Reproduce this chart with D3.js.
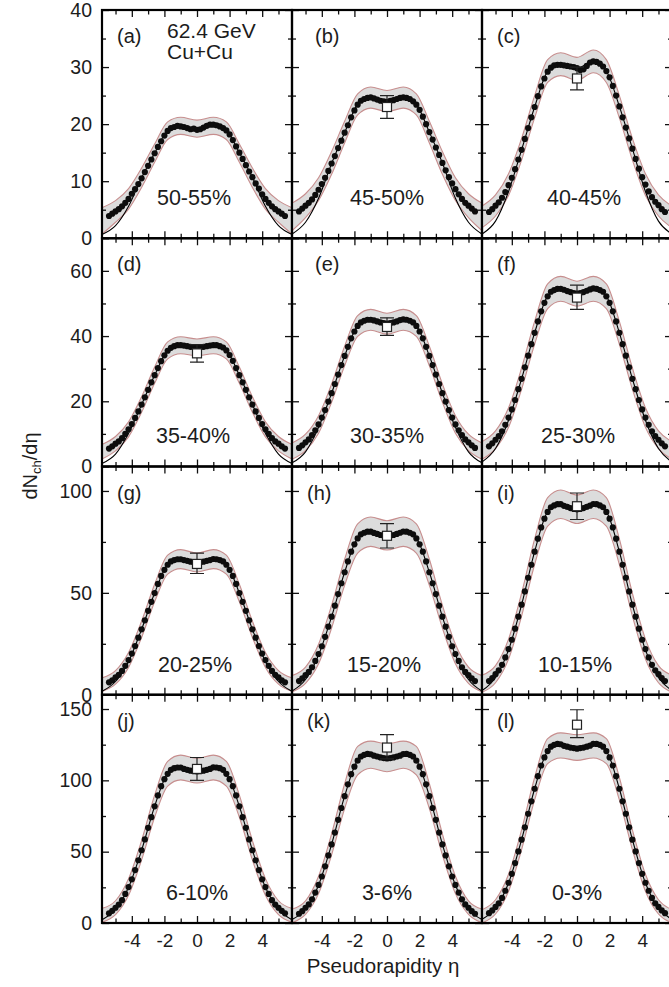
<!DOCTYPE html>
<html><head><meta charset="utf-8">
<script src="https://cdn.jsdelivr.net/npm/d3@7"></script>
<style>html,body{margin:0;padding:0;background:#fff;} svg{display:block;}</style>
</head><body>
<svg id="chart" width="669" height="987"></svg>
<script>
// ---------------- data ----------------
const eta = [-5.4,-5.2,-5.0,-4.8,-4.6,-4.4,-4.2,-4.0,-3.8,-3.6,-3.4,-3.2,-3.0,-2.8,-2.6,-2.4,-2.2,-2.0,-1.8,-1.6,-1.4,-1.2,-1.0,-0.8,-0.6,-0.4,-0.2,0,0.2,0.4,0.6,0.8,1.0,1.2,1.4,1.6,1.8,2.0,2.2,2.4,2.6,2.8,3.0,3.2,3.4,3.6,3.8,4.0,4.2,4.4,4.6,4.8,5.0,5.2,5.4];
const bandEta = [-5.8,-5.0,-4.2,-3.4,-2.6,-1.8,-1.0,0,1.0,1.8,2.6,3.4,4.2,5.0,5.8];

const centralities = ["50-55%","45-50%","40-45%","35-40%","30-35%","25-30%","20-25%","15-20%","10-15%","6-10%","3-6%","0-3%"];
const panelLetters = ["(a)","(b)","(c)","(d)","(e)","(f)","(g)","(h)","(i)","(j)","(k)","(l)"];

const dndeta_a = [3.9,4.3,4.7,5.1,5.6,6.2,6.9,7.8,8.6,9.5,10.5,11.6,12.7,13.8,14.9,16.0,17.0,18.0,18.8,19.3,19.5,19.7,19.6,19.5,19.3,19.1,19.2,19.0,19.1,19.4,19.7,19.9,19.9,19.8,19.6,19.3,18.9,18.2,17.2,16.1,15.0,13.9,12.8,11.7,10.7,9.6,8.7,7.7,6.9,6.2,5.6,5.1,4.7,4.3,3.9];
const dndeta_b = [4.7,5.2,5.7,6.2,6.8,7.6,8.5,9.5,10.6,11.8,13.1,14.4,15.8,17.1,18.5,19.8,21.2,22.4,23.4,24.1,24.4,24.6,24.7,24.5,24.3,24.1,24.0,23.9,24.1,24.2,24.4,24.6,24.7,24.6,24.4,24.0,23.4,22.5,21.3,20.0,18.6,17.3,15.9,14.6,13.2,11.9,10.7,9.6,8.6,7.7,6.9,6.2,5.7,5.2,4.7];
const dndeta_c = [4.6,5.1,5.7,6.3,7.1,8.1,9.3,10.6,12.1,13.8,15.5,17.4,19.3,21.2,23.0,24.9,26.6,28.0,29.2,29.9,30.3,30.4,30.4,30.3,30.2,30.1,30.0,29.8,29.5,29.6,30.2,30.8,31.0,30.9,30.6,30.1,29.3,28.2,26.7,25.0,23.1,21.2,19.4,17.5,15.7,13.9,12.2,10.7,9.4,8.2,7.2,6.4,5.8,5.1,4.6];
const dndeta_d = [5.5,6.2,7.0,7.7,8.7,10.0,11.4,13.0,14.9,16.9,19.0,21.2,23.5,25.8,28.0,30.2,32.3,34.1,35.5,36.4,36.9,37.2,37.2,37.1,36.9,36.7,36.6,36.5,36.6,36.7,36.9,37.1,37.2,37.2,36.9,36.5,35.6,34.2,32.4,30.2,28.0,25.8,23.5,21.2,19.0,16.9,14.9,13.0,11.4,10.0,8.7,7.7,7.0,6.2,5.5];
const dndeta_e = [5.7,6.5,7.4,8.3,9.6,11.1,12.9,15.0,17.3,19.9,22.5,25.3,28.2,31.1,33.9,36.7,39.3,41.4,43.1,44.2,44.7,45.0,45.0,44.8,44.5,44.2,44.0,43.8,44.0,44.2,44.5,44.9,45.1,45.0,44.7,44.2,43.1,41.4,39.3,36.7,33.9,31.1,28.2,25.3,22.5,19.9,17.3,15.0,12.9,11.1,9.6,8.3,7.4,6.5,5.7];
const dndeta_f = [6.2,7.1,8.2,9.3,10.8,12.8,15.0,17.5,20.4,23.7,26.9,30.4,34.0,37.5,41.0,44.5,47.6,50.2,52.2,53.6,54.1,54.5,54.5,54.2,53.8,53.5,53.2,53.0,53.2,53.5,53.9,54.3,54.6,54.5,54.1,53.6,52.2,50.2,47.6,44.5,41.0,37.5,34.0,30.4,26.9,23.7,20.4,17.5,15.0,12.8,10.8,9.3,8.2,7.1,6.2];
const dndeta_g = [6.1,7.1,8.5,9.8,11.7,14.2,17.0,20.2,23.9,28.0,32.1,36.5,41.2,45.6,49.9,54.4,58.3,61.3,63.8,65.4,66.1,66.5,66.5,66.1,65.7,65.3,65.0,64.8,65.0,65.3,65.7,66.1,66.6,66.5,66.1,65.4,63.8,61.3,58.3,54.4,49.9,45.6,41.2,36.5,32.1,28.0,23.9,20.2,17.0,14.2,11.7,9.8,8.5,7.1,6.1];
const dndeta_h = [6.7,8.0,9.6,11.2,13.5,16.6,20.0,23.8,28.4,33.4,38.3,43.7,49.4,54.7,60.1,65.4,70.2,73.8,76.7,78.7,79.5,80.0,80.0,79.4,78.9,78.4,78.0,77.8,78.0,78.4,78.9,79.5,80.1,80.0,79.5,78.7,76.7,73.8,70.2,65.4,60.1,54.7,49.4,43.7,38.3,33.4,28.4,23.8,20.0,16.6,13.5,11.2,9.6,8.0,6.7];
const dndeta_i = [6.7,8.2,10.1,12.0,14.7,18.3,22.4,27.0,32.4,38.3,44.2,50.7,57.4,63.8,70.2,76.6,82.1,86.4,89.7,92.0,92.9,93.5,93.5,92.7,92.2,91.6,91.2,91.0,91.2,91.6,92.2,92.8,93.6,93.5,92.9,92.0,89.7,86.4,82.1,76.6,70.2,63.8,57.4,50.7,44.2,38.3,32.4,27.0,22.4,18.3,14.7,12.0,10.1,8.2,6.7];
const dndeta_j = [6.8,8.5,10.7,12.9,16.0,20.4,25.2,30.6,37.1,44.0,51.0,58.6,66.7,74.2,81.8,89.4,95.9,100.8,104.6,107.4,108.5,109.0,109.0,108.0,107.4,106.8,106.4,106.2,106.4,106.8,107.4,108.0,109.1,109.0,108.5,107.4,104.6,100.8,95.9,89.4,81.8,74.2,66.7,58.6,51.0,44.0,37.1,30.6,25.2,20.4,16.0,12.9,10.7,8.5,6.8];
const dndeta_k = [6.5,8.3,10.7,13.0,16.6,21.3,26.7,32.6,39.7,47.4,55.1,63.4,72.3,80.6,88.9,97.2,104.3,109.6,113.8,116.7,117.9,118.5,118.3,117.3,116.7,116.1,115.6,115.3,115.6,116.1,116.7,117.3,118.4,118.5,117.9,116.7,113.8,109.6,104.3,97.2,88.9,80.6,72.3,63.4,55.1,47.4,39.7,32.6,26.7,21.3,16.6,13.0,10.7,8.3,6.5];
const dndeta_l = [6.9,8.8,11.3,13.8,17.6,22.6,28.2,34.5,42.0,50.2,58.4,67.1,76.6,85.3,94.1,102.9,110.4,116.1,120.5,123.6,124.9,125.5,125.3,124.2,123.6,123.0,122.6,122.2,122.6,123.0,123.6,124.3,125.6,125.5,124.9,123.6,120.5,116.1,110.4,102.9,94.1,85.3,76.6,67.1,58.4,50.2,42.0,34.5,28.2,22.6,17.6,13.8,11.3,8.8,6.9];

// systematic band (lower / upper) on bandEta
const bandLo_a = [0.8,2.8,5.1,8.9,13.3,17.3,18.2,17.7,18.2,17.3,13.3,8.9,5.1,2.8,0.8];
const bandHi_a = [5.4,6.6,8.7,12.3,16.5,20.4,21.2,20.7,21.2,20.4,16.5,12.3,8.7,6.6,5.4];
const bandLo_b = [1.4,3.6,6.6,11.2,16.7,21.6,22.8,22.2,22.8,21.6,16.7,11.2,6.6,3.6,1.4];
const bandHi_b = [6.2,7.8,10.6,15.2,20.5,25.3,26.5,25.9,26.5,25.3,20.5,15.2,10.6,7.8,6.2];
const bandLo_c = [1.9,3.9,7.5,13.7,21.1,27.3,28.5,27.7,29.0,27.3,21.1,13.7,7.5,3.9,1.9];
const bandHi_c = [5.7,7.6,11.3,17.5,25.0,31.3,32.5,31.7,33.0,31.3,25.0,17.5,11.3,7.6,5.7];
const bandLo_d = [2.4,4.8,9.1,16.6,25.5,33.0,34.6,33.9,34.6,33.0,25.5,16.6,9.1,4.8,2.4];
const bandHi_d = [6.8,9.2,13.7,21.4,30.5,38.2,39.8,39.1,39.8,38.2,30.5,21.4,13.7,9.2,6.8];
const bandLo_e = [2.3,4.9,10.2,19.7,30.9,39.9,41.8,40.6,41.8,39.9,30.9,19.7,10.2,4.9,2.3];
const bandHi_e = [7.3,9.9,15.6,25.3,36.9,46.3,48.2,47.0,48.2,46.3,36.9,25.3,15.6,9.9,7.3];
const bandLo_f = [2.3,5.5,12.0,23.7,37.5,48.4,50.7,49.2,50.7,48.4,37.5,23.7,12.0,5.5,2.3];
const bandHi_f = [7.7,10.9,18.0,30.2,44.5,56.0,58.3,56.8,58.3,56.0,44.5,30.2,18.0,10.9,7.7];
const bandLo_g = [1.7,5.2,13.4,28.1,45.6,59.2,61.9,60.2,61.9,59.2,45.6,28.1,13.4,5.2,1.7];
const bandHi_g = [8.3,11.8,20.7,36.1,54.2,68.5,71.2,69.5,71.2,68.5,54.2,36.1,20.7,11.8,8.3];
const bandLo_h = [1.5,5.6,15.2,32.7,53.7,69.5,72.8,71.0,72.8,69.5,53.7,32.7,15.2,5.6,1.5];
const bandHi_h = [9.5,13.6,24.8,43.9,66.5,83.9,87.2,85.4,87.2,83.9,66.5,43.9,24.8,13.6,9.5];
const bandLo_i = [1.3,5.9,17.5,38.6,63.9,82.7,86.5,84.0,86.5,82.7,63.9,38.6,17.5,5.9,1.3];
const bandHi_i = [9.7,14.3,27.3,49.8,76.5,96.7,100.5,98.0,100.5,96.7,76.5,49.8,27.3,14.3,9.7];
const bandLo_j = [0.6,5.8,19.4,44.2,74.1,95.9,100.3,98.1,100.3,95.9,74.1,44.2,19.4,5.8,0.6];
const bandHi_j = [10.4,15.6,31.1,57.8,89.6,113.3,117.7,115.5,117.7,113.3,89.6,57.8,31.1,15.6,10.4];
const bandLo_k = [0.3,6.0,20.6,47.7,80.2,103.8,108.5,106.0,108.5,103.8,80.2,47.7,20.6,6.0,0.3];
const bandHi_k = [9.8,15.5,32.8,62.5,97.6,123.8,127.5,125.5,127.5,123.8,97.6,62.5,32.8,15.5,9.8];
const bandLo_l = [0.2,6.3,22.3,51.5,86.3,111.7,115.7,114.0,115.7,111.7,86.3,51.5,22.3,6.3,0.2];
const bandHi_l = [9.5,16.3,34.2,65.3,102.0,129.3,133.3,132.0,133.3,129.3,102.0,65.3,34.2,16.3,9.5];

// thin black curve on bandEta
const fit_a = [0.7,2.2,5.6,10.6,14.9,18.9,19.8,19.0,19.9,18.9,15.0,10.7,5.6,2.2,0.7];
const fit_b = [0.8,2.8,7.0,13.1,18.5,23.4,24.6,23.9,24.7,23.4,18.6,13.2,7.0,2.8,0.8];
const fit_c = [0.8,3.0,8.2,15.5,23.0,29.2,30.4,29.8,31.0,29.3,23.1,15.7,8.2,3.0,0.8];
const fit_d = [1.0,3.8,10.2,19.0,28.0,35.5,37.2,36.5,37.2,35.6,28.0,19.0,10.2,3.8,1.0];
const fit_e = [1.2,4.5,12.0,22.5,33.9,43.1,45.0,43.8,45.1,43.1,33.9,22.5,12.0,4.5,1.2];
const fit_f = [1.5,5.5,14.2,26.9,41.0,52.2,54.5,53.0,54.6,52.2,41.0,26.9,14.2,5.5,1.5];
const fit_g = [1.8,6.5,16.3,32.1,49.9,63.8,66.5,64.8,66.6,63.8,49.9,32.1,16.3,6.5,1.8];
const fit_h = [2.0,7.5,19.5,38.3,60.1,76.7,80.0,77.8,80.1,76.7,60.1,38.3,19.5,7.5,2.0];
const fit_i = [2.2,8.5,22.0,44.2,70.2,89.7,93.5,91.0,93.6,89.7,70.2,44.2,22.0,8.5,2.2];
const fit_j = [2.5,9.5,25.0,51.0,81.8,104.6,109.0,106.2,109.1,104.6,81.8,51.0,25.0,9.5,2.5];
const fit_k = [2.6,9.8,26.5,55.1,88.9,113.8,118.5,115.3,118.4,113.8,88.9,55.1,26.5,9.8,2.6];
const fit_l = [2.8,10.5,28.0,58.4,94.1,120.5,125.5,122.2,125.6,120.5,94.1,58.4,28.0,10.5,2.8];

// open-square reference point at eta = 0
const refValue = [null,23.0,28.0,34.7,42.8,51.8,64.2,78.0,92.5,108.0,123.0,139.0];
const refLo    = [null,21.0,26.0,32.0,40.2,48.2,59.5,72.0,86.0,100.0,115.0,130.0];
const refHi    = [null,25.0,30.0,37.4,45.6,55.6,69.5,84.0,99.0,116.0,132.0,149.5];

// axes
const rowYMax = [40, 70, 112, 160];
const yMajorTicks = [[0,10,20,30,40],[0,20,40,60],[0,50,100],[0,50,100,150]];
const yMinorTicks = [[5,15,25,35],[10,30,50],[25,75],[25,75,125]];
const xMajorTicks = [-4,-2,0,2,4];
const xMinorTicks = [-5,-3,-1,1,3,5];

// ---------------- layout ----------------
const colX = [102, 292, 482], panelW = 190;
const rowY = [10, 238.25, 466.5, 694.75], panelH = 228.25;
const letterDx = [15,23,15,15,23,15,15,15,15,15,15,15];
const centDx = [-3,0,7,-4,0,1,-2,-3,-2,0,0,0];
const FONT = "'Liberation Sans', Arial, Helvetica, sans-serif";
const TXT = "#1c1c1c";

const panels = [
  {vals:dndeta_a, lo:bandLo_a, hi:bandHi_a, fit:fit_a},
  {vals:dndeta_b, lo:bandLo_b, hi:bandHi_b, fit:fit_b},
  {vals:dndeta_c, lo:bandLo_c, hi:bandHi_c, fit:fit_c},
  {vals:dndeta_d, lo:bandLo_d, hi:bandHi_d, fit:fit_d},
  {vals:dndeta_e, lo:bandLo_e, hi:bandHi_e, fit:fit_e},
  {vals:dndeta_f, lo:bandLo_f, hi:bandHi_f, fit:fit_f},
  {vals:dndeta_g, lo:bandLo_g, hi:bandHi_g, fit:fit_g},
  {vals:dndeta_h, lo:bandLo_h, hi:bandHi_h, fit:fit_h},
  {vals:dndeta_i, lo:bandLo_i, hi:bandHi_i, fit:fit_i},
  {vals:dndeta_j, lo:bandLo_j, hi:bandHi_j, fit:fit_j},
  {vals:dndeta_k, lo:bandLo_k, hi:bandHi_k, fit:fit_k},
  {vals:dndeta_l, lo:bandLo_l, hi:bandHi_l, fit:fit_l}
];

const svg = d3.select("#chart");
svg.append("rect").attr("width",669).attr("height",987).attr("fill","#fff");
const x = d3.scaleLinear().domain([-5.83, 5.83]).range([0, panelW]);

function styleTicks(sel){
  sel.select(".domain").remove();
  sel.selectAll("line").attr("stroke","#111").attr("stroke-width",1.3);
}

panels.forEach((p, k) => {
  const row = Math.floor(k/3), col = k % 3;
  const g = svg.append("g").attr("transform", `translate(${colX[col]},${rowY[row]})`);
  const y = d3.scaleLinear().domain([0, rowYMax[row]]).range([panelH, 0]);

  const clipId = "clip" + k;
  g.append("clipPath").attr("id", clipId).append("rect")
    .attr("width", panelW).attr("height", panelH);
  const plot = g.append("g").attr("clip-path", `url(#${clipId})`);

  const bandData = bandEta.map((e,i) => ({e, lo:p.lo[i], hi:p.hi[i], f:p.fit[i]}));
  plot.append("path").datum(bandData)
    .attr("d", d3.area().x(d=>x(d.e)).y0(d=>y(d.lo)).y1(d=>y(d.hi)).curve(d3.curveMonotoneX))
    .attr("fill","#dcdcdc");
  ["lo","hi"].forEach(key => {
    plot.append("path").datum(bandData)
      .attr("d", d3.line().x(d=>x(d.e)).y(d=>y(d[key])).curve(d3.curveMonotoneX))
      .attr("fill","none").attr("stroke","#c78e8e").attr("stroke-width",1.1);
  });
  plot.append("path").datum(bandData)
    .attr("d", d3.line().x(d=>x(d.e)).y(d=>y(d.f)).curve(d3.curveMonotoneX))
    .attr("fill","none").attr("stroke","#000").attr("stroke-width",1.1);

  plot.selectAll("circle.pt").data(p.vals).enter().append("circle")
    .attr("class","pt")
    .attr("cx",(d,i)=>x(eta[i])).attr("cy",d=>y(d)).attr("r",3.1)
    .attr("fill","#0d0d0d");

  if (refValue[k] !== null) {
    const cx = x(0);
    const eb = plot.append("g").attr("stroke","#222").attr("stroke-width",1.2);
    eb.append("line").attr("x1",cx).attr("x2",cx).attr("y1",y(refLo[k])).attr("y2",y(refHi[k]));
    eb.append("line").attr("x1",cx-7).attr("x2",cx+7).attr("y1",y(refLo[k])).attr("y2",y(refLo[k]));
    eb.append("line").attr("x1",cx-7).attr("x2",cx+7).attr("y1",y(refHi[k])).attr("y2",y(refHi[k]));
    plot.append("rect").attr("x",cx-4.5).attr("y",y(refValue[k])-4.5)
      .attr("width",9).attr("height",9).attr("fill","#fff").attr("stroke","#222").attr("stroke-width",1.2);
  }

  // inward ticks on four sides
  const tickSets = [[yMajorTicks[row],7],[yMinorTicks[row],4]];
  tickSets.forEach(([vals,len]) => {
    g.append("g").call(d3.axisLeft(y).tickValues(vals).tickSizeInner(-len).tickSizeOuter(0).tickFormat(""))
      .call(styleTicks);
    g.append("g").attr("transform",`translate(${panelW},0)`)
      .call(d3.axisRight(y).tickValues(vals).tickSizeInner(-len).tickSizeOuter(0).tickFormat(""))
      .call(styleTicks);
  });
  [[xMajorTicks,7],[xMinorTicks,4.5]].forEach(([vals,len]) => {
    g.append("g").attr("transform",`translate(0,${panelH})`)
      .call(d3.axisBottom(x).tickValues(vals).tickSizeInner(-len).tickSizeOuter(0).tickFormat(""))
      .call(styleTicks);
    g.append("g")
      .call(d3.axisTop(x).tickValues(vals).tickSizeInner(-len).tickSizeOuter(0).tickFormat(""))
      .call(styleTicks);
  });

  g.append("rect").attr("width",panelW).attr("height",panelH)
    .attr("fill","none").attr("stroke","#000").attr("stroke-width",2.2);

  // tick labels
  if (col === 0) {
    const ax = g.append("g")
      .call(d3.axisLeft(y).tickValues(yMajorTicks[row]).tickSize(0).tickPadding(10).tickFormat(d=>String(d)));
    ax.select(".domain").remove();
    ax.selectAll("text").attr("font-family",FONT).attr("font-size",19.5).attr("fill",TXT);
  }
  if (row === 3) {
    const ax = g.append("g").attr("transform",`translate(0,${panelH})`)
      .call(d3.axisBottom(x).tickValues(xMajorTicks).tickSize(0).tickPadding(11).tickFormat(d=>String(d)));
    ax.select(".domain").remove();
    ax.selectAll("text").attr("font-family",FONT).attr("font-size",19).attr("fill",TXT);
  }

  // labels
  g.append("text").attr("x",letterDx[k]).attr("y",33)
    .attr("font-family",FONT).attr("font-size",20).attr("fill",TXT).text(panelLetters[k]);
  g.append("text").attr("x",x(0)+centDx[k]).attr("y", row===0 ? 195 : 205)
    .attr("text-anchor","middle").attr("font-family",FONT).attr("font-size",21.5).attr("fill",TXT)
    .text(centralities[k]);
  if (k === 0) {
    g.append("text").attr("x",65).attr("y",28).attr("font-family",FONT).attr("font-size",21)
      .attr("fill",TXT).text("62.4 GeV");
    g.append("text").attr("x",65).attr("y",49).attr("font-family",FONT).attr("font-size",21)
      .attr("fill",TXT).text("Cu+Cu");
  }
});

// axis titles
const yt = svg.append("text").attr("transform","translate(37,466) rotate(-90)")
  .attr("text-anchor","middle").attr("font-family",FONT).attr("font-size",20).attr("fill",TXT);
yt.append("tspan").text("dN");
yt.append("tspan").attr("font-size",13).attr("dy",4).text("ch");
yt.append("tspan").attr("dy",-4).text("/dη");

svg.append("text").attr("x",383).attr("y",973).attr("text-anchor","middle")
  .attr("font-family",FONT).attr("font-size",20.5).attr("fill",TXT).text("Pseudorapidity η");
</script>
</body></html>
